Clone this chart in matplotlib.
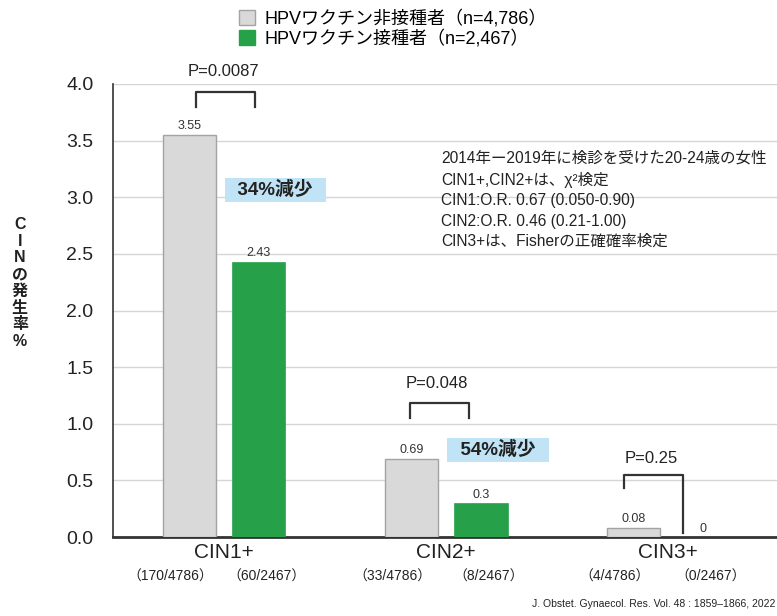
import numpy as np
import matplotlib
matplotlib.use('Agg')
import matplotlib.pyplot as plt
from matplotlib.patches import Patch
from matplotlib.transforms import blended_transform_factory

plt.rcParams['font.family'] = ['Liberation Sans', 'Noto Sans CJK JP', 'DejaVu Sans']

# データ
categories = ['CIN1+', 'CIN2+', 'CIN3+']
unvaccinated = [3.55, 0.69, 0.08]
vaccinated = [2.43, 0.3, 0]
unvacc_counts = ['（170/4786）', '（33/4786）', '（4/4786）']
vacc_counts = ['（60/2467）', '（8/2467）', '（0/2467）']
p_values = ['P=0.0087', 'P=0.048', 'P=0.25']
reductions = ['34%減少', '54%減少']
legend_labels = ['HPVワクチン非接種者（n=4,786）', 'HPVワクチン接種者（n=2,467）']
notes = ('2014年ー2019年に検診を受けた20-24歳の女性\n'
         'CIN1+,CIN2+は、χ²検定\n'
         'CIN1:O.R. 0.67 (0.050-0.90)\n'
         'CIN2:O.R. 0.46 (0.21-1.00)\n'
         'CIN3+は、Fisherの正確確率検定')

gray = '#d9d9d9'
green = '#27a04a'
dark = '#222222'

fig = plt.figure(figsize=(7.77, 6.16), dpi=100)
ax = fig.add_axes([113 / 777, 79 / 616, 1 - 113 / 777, 453 / 616])

x = np.arange(len(categories))
off = 0.1565
w = 0.24
ax.bar(x - off, unvaccinated, w, color=gray, edgecolor='#a3a3a3', linewidth=1, zorder=3)
ax.bar(x + off, vaccinated, w, color=green, edgecolor=green, linewidth=0.5, zorder=3)

# 値ラベル
for xi, v in zip(x - off, unvaccinated):
    ax.text(xi, v + 0.075, f'{v:g}', ha='center', va='center', fontsize=9, color='#333333')
for xi, v in zip(x + off, vaccinated):
    ax.text(xi, v + 0.075, f'{v:g}', ha='center', va='center', fontsize=9, color='#333333')

ax.set_xlim(-0.5, 2.49)
ax.set_ylim(0, 4.0)
ax.set_yticks(np.arange(0, 4.01, 0.5))
ax.set_yticklabels([f'{t:.1f}' for t in np.arange(0, 4.01, 0.5)], fontsize=14, color=dark)
ax.tick_params(axis='y', length=0, pad=14)
ax.yaxis.grid(True, color='#d6d6d6', linewidth=1, zorder=0)
ax.set_axisbelow(True)

ax.set_xticks(x)
ax.set_xticklabels(categories, fontsize=15, color=dark)
ax.tick_params(axis='x', length=0, pad=4)

for s in ['top', 'right']:
    ax.spines[s].set_visible(False)
ax.spines['left'].set_color('#333333')
ax.spines['left'].set_linewidth(1.2)
ax.spines['bottom'].set_color('#333333')
ax.spines['bottom'].set_linewidth(2)

# 症例数
trans = blended_transform_factory(ax.transData, ax.transAxes)
for xi, a, b in zip(x, unvacc_counts, vacc_counts):
    ax.text(xi - 0.24, -0.087, a, transform=trans, ha='center', va='center', fontsize=10, color=dark)
    ax.text(xi + 0.19, -0.087, b, transform=trans, ha='center', va='center', fontsize=10, color=dark)

# P値のブラケット
brackets = [(-0.127, 0.1385, 3.93, 3.80, 3.80, 4.106),
            (0.836, 1.101, 1.183, 1.051, 1.051, 1.351),
            (1.80, 2.066, 0.547, 0.433, 0.035, 0.689)]
for (x0, x1, top, yl, yr, ty), p in zip(brackets, p_values):
    ax.plot([x0, x0, x1, x1], [yl, top, top, yr], color='#333333', linewidth=1.6,
            clip_on=False, zorder=4)
    ax.text((x0 + x1) / 2 - 0.01, ty, p, ha='center', va='center', fontsize=12,
            color=dark, clip_on=False)

# 減少率のボックス
for (bx, by), r in zip([(0.231, 3.064), (1.233, 0.768)], reductions):
    ax.text(bx, by, '  ' + r + '  ', ha='center', va='center', fontsize=13.5, fontweight='bold',
            color=dark, bbox=dict(boxstyle='square,pad=0.15', facecolor='#c0e3f5', edgecolor='none'),
            zorder=5)

fig.text(441 / 777, 1 - 151 / 616, notes, ha='left', va='top',
         fontsize=11.2, color=dark, linespacing=1.45)

# 凡例
handles = [Patch(facecolor=gray, edgecolor='#a3a3a3'), Patch(facecolor=green, edgecolor=green)]
fig.legend(handles, legend_labels, loc='upper left', bbox_to_anchor=(239 / 777, 1 - 10 / 616),
           frameon=False, fontsize=13, handlelength=0.9, handleheight=0.9,
           handletextpad=0.5, labelspacing=0.1, borderpad=0, borderaxespad=0)

fig.text(20 / 777, 1 - 283 / 616, 'C\nI\nN\nの\n発\n生\n率\n%', ha='center', va='center',
         fontsize=11.5, fontweight='bold', color=dark, linespacing=1.15)

fig.text(775 / 777, 1 - 604 / 616, 'J. Obstet. Gynaecol. Res. Vol. 48 : 1859–1866, 2022',
         ha='right', va='center', fontsize=7.5, color=dark)

fig.savefig('out.png', dpi=100)
